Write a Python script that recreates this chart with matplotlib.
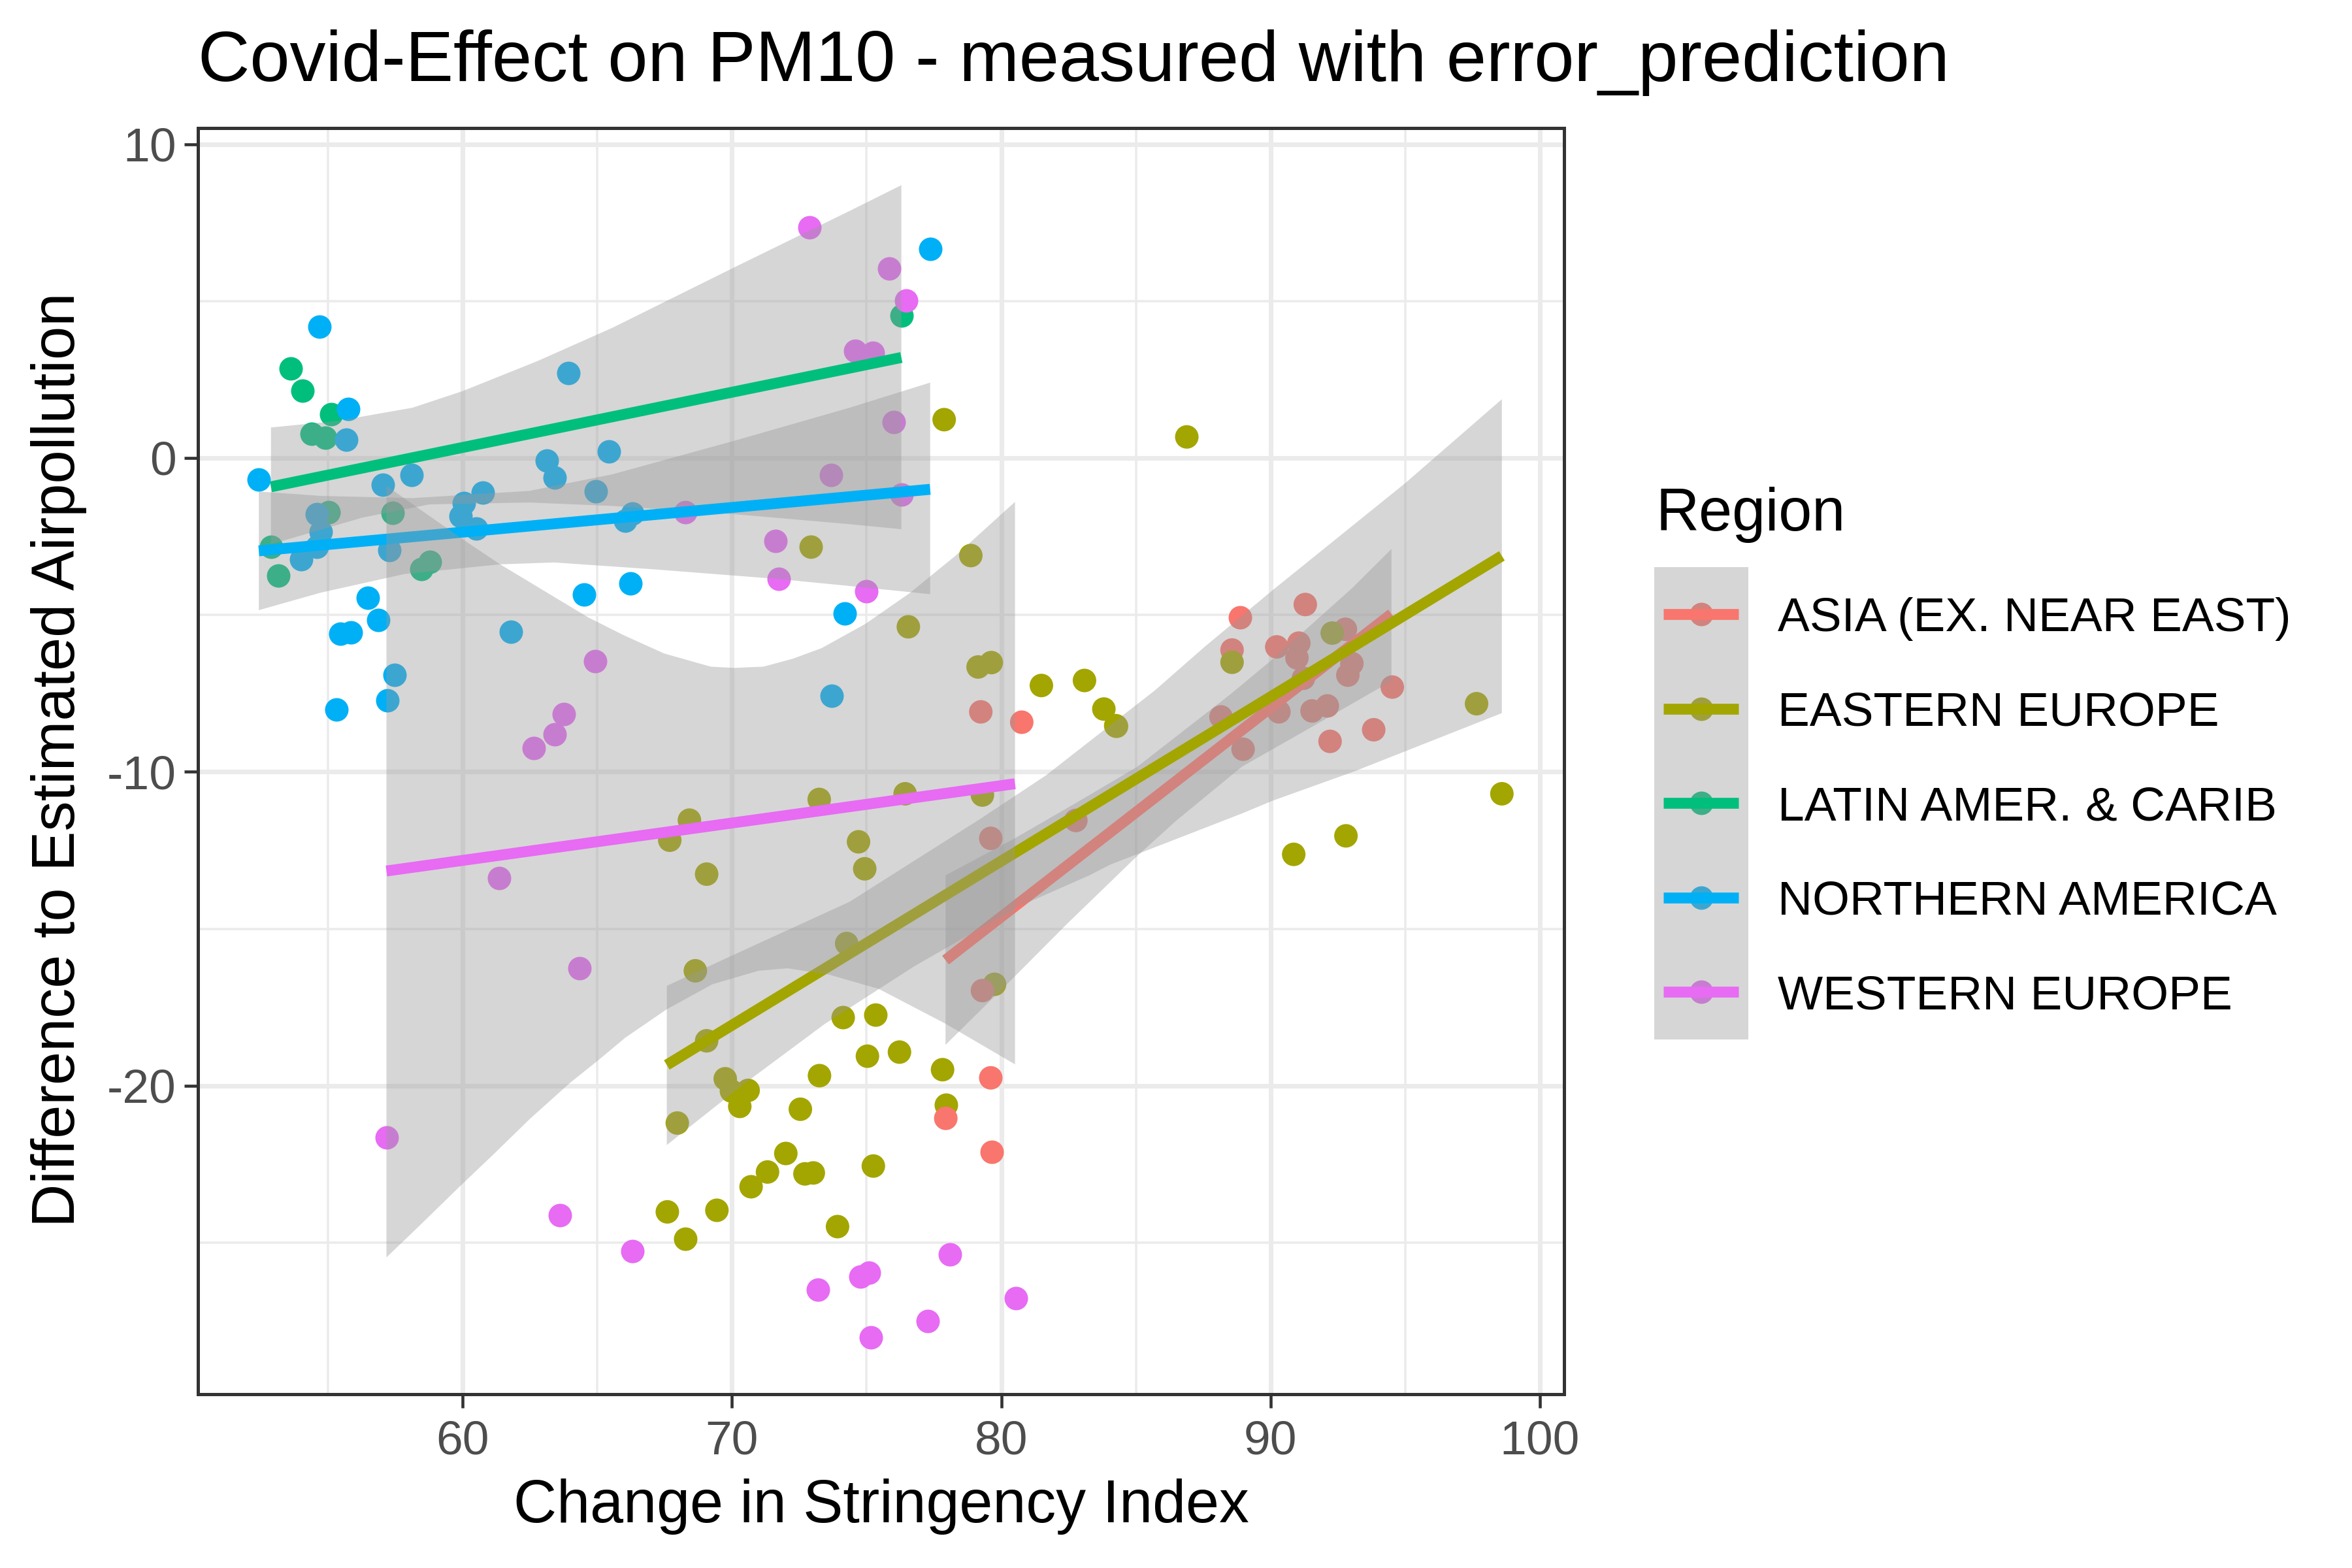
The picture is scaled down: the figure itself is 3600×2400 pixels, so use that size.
import numpy as np
import matplotlib
matplotlib.use("Agg")
import matplotlib.pyplot as plt
from matplotlib.patches import Rectangle

plt.rcParams['font.family'] = ['Liberation Sans', 'DejaVu Sans']
plt.rcParams['axes.unicode_minus'] = False

TITLE = "Covid-Effect on PM10 - measured with error_prediction"
XLABEL = "Change in Stringency Index"
YLABEL = "Difference to Estimated Airpollution"
LEGEND_TITLE = "Region"
REGIONS = ["ASIA (EX. NEAR EAST)", "EASTERN EUROPE", "LATIN AMER. & CARIB", "NORTHERN AMERICA", "WESTERN EUROPE"]
COLORS = ["#F8766D", "#A3A500", "#00BF7D", "#00B0F6", "#E76BF3"]
XTICKS = [60, 70, 80, 90, 100]
YTICKS = [-20, -10, 0, 10]
XMINOR = [55, 65, 75, 85, 95]
YMINOR = [-25, -15, -5, 5]

# points
asia_x = [88.88, 88.57, 91.29, 90.23, 91.05, 90.98, 92.78, 93.02, 92.87, 91.22, 94.52, 88.16, 90.31, 91.54, 92.11,
          93.83, 92.21, 88.98, 79.61, 77.94, 79.66, 79.30, 79.24, 80.76, 79.61, 82.77]
asia_y = [-5.09, -6.12, -4.67, -6.02, -5.90, -6.37, -5.46, -6.55, -6.92, -7.02, -7.30, -8.25, -8.09, -8.06, -7.90,
          -8.66, -9.03, -9.28, -19.75, -21.04, -22.12, -16.97, -8.09, -8.42, -12.12, -11.55]
east_x = [68.64, 74.26, 79.75, 69.06, 69.75, 69.98, 70.6, 70.29, 67.97, 73.25, 74.13, 75.34, 75.03, 76.22, 77.82,
          77.96, 72.54, 72.0, 71.32, 70.71, 72.71, 73.02, 75.25, 67.6, 69.44, 68.28, 73.92, 73.24, 68.42, 67.69,
          69.06, 74.7, 74.93, 76.43, 79.3, 72.94, 77.88, 86.89, 78.87, 76.55, 79.14, 79.63, 81.49, 83.09, 83.81,
          84.28, 88.57, 84.25, 92.29, 97.65, 98.59, 92.8, 90.86]
east_y = [-16.34, -15.47, -16.77, -18.57, -19.78, -20.17, -20.15, -20.66, -21.19, -19.68, -17.83, -17.75, -19.06,
          -18.93, -19.49, -20.62, -20.75, -22.16, -22.75, -23.22, -22.81, -22.78, -22.56, -24.02, -23.97, -24.89,
          -24.49, -10.88, -11.54, -12.18, -13.26, -12.23, -13.09, -10.7, -10.74, -2.84, 1.22, 0.67, -3.11, -5.38,
          -6.66, -6.52, -7.25, -7.09, -8.0, -8.55, -6.51, -8.53, -5.58, -7.83, -10.70, -12.04, -12.63]
latin_x = [53.61, 54.06, 55.12, 54.40, 54.89, 55.02, 57.4, 52.89, 53.16, 58.78, 58.47, 76.29]
latin_y = [2.86, 2.15, 1.39, 0.77, 0.65, -1.72, -1.74, -2.83, -3.74, -3.32, -3.55, 4.54]
north_x = [54.69, 52.43, 55.76, 55.67, 63.92, 65.43, 63.13, 63.42, 58.10, 57.03, 64.95, 60.74, 60.05, 59.92, 60.5,
           66.3, 66.04, 54.58, 54.74, 54.58, 54.0, 57.29, 56.49, 56.87, 64.5, 66.22, 74.2, 55.46, 55.85, 61.78,
           57.48, 57.21, 55.32, 73.7, 77.36]
north_y = [4.19, -0.68, 1.55, 0.59, 2.70, 0.20, -0.08, -0.62, -0.55, -0.85, -1.07, -1.11, -1.44, -1.85, -2.26,
           -1.77, -1.99, -1.80, -2.35, -2.83, -3.23, -2.94, -4.45, -5.17, -4.35, -3.99, -4.95, -5.6, -5.55, -5.53,
           -6.92, -7.73, -8.01, -7.58, 6.65]
west_x = [72.89, 71.61, 71.75, 68.28, 73.68, 74.58, 75.22, 75.83, 76.47, 76.0, 76.29, 74.99, 64.91, 63.76, 63.42,
          62.65, 61.35, 64.35, 57.17, 73.19, 74.77, 75.09, 78.1, 80.54, 77.28, 75.17, 63.62, 66.3]
west_y = [7.34, -2.65, -3.86, -1.72, -0.55, 3.41, 3.35, 6.03, 5.02, 1.14, -1.16, -4.24, -6.48, -8.16, -8.80,
          -9.25, -13.39, -16.26, -21.65, -26.49, -26.08, -25.96, -25.37, -26.77, -27.49, -28.02, -24.13, -25.27]

# fitted lines
asia_line_x = [77.93, 94.49];  asia_line_y = [-16.0, -4.97]
east_line_x = [67.58, 98.59];  east_line_y = [-19.34, -3.12]
latin_line_x = [52.88, 76.29]; latin_line_y = [-0.92, 3.2]
north_line_x = [52.43, 77.36]; north_line_y = [-2.96, -1.0]
west_line_x = [57.17, 80.51];  west_line_y = [-13.16, -10.38]

# confidence bands
asia_up_x = [77.93, 80.5, 82.86, 85.05, 88.51, 90.08, 93.04, 94.49]
asia_up_y = [-13.3, -12.12, -10.95, -9.84, -7.53, -6.41, -4.14, -2.9]
asia_lo_x = [77.93, 80.36, 82.46, 85.05, 86.48, 88.93, 91.47, 94.49]
asia_lo_y = [-18.7, -16.64, -14.83, -12.68, -11.57, -9.84, -8.6, -7.11]
east_up_x = [67.58, 69.91, 74.37, 79.22, 81.65, 83.83, 85.7, 87.55, 90.04, 95.02, 98.59]
east_up_y = [-16.82, -15.89, -14.14, -11.5, -10.12, -8.66, -7.41, -6.02, -4.24, -0.79, 1.87]
east_lo_x = [67.58, 70.36, 73.45, 75.46, 76.8, 80.68, 83.27, 84.04, 86.95, 88.93, 90.08, 93.1, 98.59]
east_lo_y = [-21.89, -20.0, -18.03, -16.92, -16.18, -14.28, -13.3, -12.96, -11.99, -11.33, -10.92, -9.99, -8.13]
latin_up_x = [52.88, 55.36, 58.14, 60.0, 62.79, 65.57, 70.06, 74.37, 76.29]
latin_up_y = [0.97, 1.18, 1.6, 2.13, 3.09, 4.15, 6.06, 7.87, 8.69]
latin_lo_x = [52.88, 56.28, 58.76, 62.48, 65.57, 70.06, 74.37, 76.29]
latin_lo_y = [-2.75, -1.9, -1.48, -1.42, -1.53, -1.79, -2.11, -2.27]
north_up_x = [52.43, 54.74, 58.14, 62.48, 65.57, 70.06, 74.37, 77.36]
north_up_y = [-1.07, -1.21, -1.28, -1.05, -0.52, 0.54, 1.6, 2.4]
north_lo_x = [52.43, 54.74, 57.83, 61.39, 63.4, 67.12, 71.76, 74.37, 77.36]
north_lo_y = [-4.85, -4.29, -3.7, -3.39, -3.33, -3.55, -3.86, -4.08, -4.34]
west_up_x = [57.17, 60.0, 61.39, 64.66, 65.96, 67.48, 69.21, 70.07, 71.17, 72.25, 73.33, 74.95, 76.58, 78.31, 80.51]
west_up_y = [-0.89, -2.59, -3.39, -5.08, -5.64, -6.23, -6.65, -6.69, -6.65, -6.4, -6.06, -5.29, -4.32, -3.11, -1.4]
west_lo_x = [57.17, 58.35, 59.88, 61.19, 62.48, 64.0, 65.02, 66.04, 67.57, 69.27, 70.98, 72.06, 73.6, 75.46, 77.94, 80.51]
west_lo_y = [-25.47, -24.5, -23.22, -22.15, -21.07, -19.9, -19.2, -18.47, -17.57, -16.77, -16.34, -16.26, -16.46,
             -16.92, -18.03, -19.32]

W, H = 3600, 2400
DPI = 300
PANEL = (303, 2394, 196, 2134)  # left, right, top, bottom in pixels
XLIM = (50.17, 100.9)
YLIM = (-29.83, 10.51)
BAND, BAND_ALPHA = "#999999", 0.4
GRID = "#EBEBEB"
DARK = "#333333"
MS = 74.6
LW = 4.0

fig = plt.figure(figsize=(W / DPI, H / DPI), dpi=DPI, facecolor="white")
l, r, t, b = PANEL
ax = fig.add_axes([l / W, 1 - b / H, (r - l) / W, (b - t) / H])
ax.set_xlim(*XLIM)
ax.set_ylim(*YLIM)
ax.set_xticks(XTICKS)
ax.set_yticks(YTICKS)
ax.set_xticks(XMINOR, minor=True)
ax.set_yticks(YMINOR, minor=True)
ax.tick_params(which="minor", length=0)
ax.tick_params(which="major", length=5, width=1.1, color=DARK, labelcolor="#4D4D4D", labelsize=17.6, pad=3)
ax.tick_params(axis="x", which="major", pad=4.5)
ax.grid(which="major", color=GRID, lw=1.7, zorder=0)
ax.grid(which="minor", color=GRID, lw=0.85, zorder=0)
ax.set_axisbelow(True)
for s in ax.spines.values():
    s.set_color(DARK)
    s.set_linewidth(1.2)
    s.set_zorder(10)

# points: green first, then the rest from high to low
ax.scatter(latin_x, latin_y, s=MS, c=COLORS[2], lw=0, zorder=2)
ax.scatter(north_x, north_y, s=MS, c=COLORS[3], lw=0, zorder=2)
ax.scatter(west_x, west_y, s=MS, c=COLORS[4], lw=0, zorder=2)
mx = np.array(asia_x + east_x)
my = np.array(asia_y + east_y)
mc = np.array([COLORS[0]] * len(asia_x) + [COLORS[1]] * len(east_x))
order = np.argsort(-my)
ax.scatter(mx[order], my[order], s=MS, c=list(mc[order]), lw=0, zorder=2)

groups = [
    (asia_up_x, asia_up_y, asia_lo_x, asia_lo_y, asia_line_x, asia_line_y, COLORS[0]),
    (east_up_x, east_up_y, east_lo_x, east_lo_y, east_line_x, east_line_y, COLORS[1]),
    (latin_up_x, latin_up_y, latin_lo_x, latin_lo_y, latin_line_x, latin_line_y, COLORS[2]),
    (north_up_x, north_up_y, north_lo_x, north_lo_y, north_line_x, north_line_y, COLORS[3]),
    (west_up_x, west_up_y, west_lo_x, west_lo_y, west_line_x, west_line_y, COLORS[4]),
]
for ux, uy, lx, ly, px, py, c in groups:
    ax.fill(list(ux) + list(lx[::-1]), list(uy) + list(ly[::-1]), color=BAND, alpha=BAND_ALPHA, lw=0, zorder=3)
    ax.plot(px, py, color=c, lw=LW, solid_capstyle="butt", zorder=3)

fig.text(l / W, 1 - 124 / H, TITLE, fontsize=26.4, color="black", ha="left", va="baseline")
fig.text((l + r) / 2 / W, 1 - 2330 / H, XLABEL, fontsize=22, color="black", ha="center", va="baseline")
fig.text(90 / W, 1 - 1163 / H, YLABEL, fontsize=22.1, color="black", rotation=90, ha="center", va="center")

# legend in pixel space
lg = fig.add_axes([0, 0, 1, 1], facecolor="none")
lg.set_xlim(0, W)
lg.set_ylim(H, 0)
lg.axis("off")
lg.text(2534, 812, LEGEND_TITLE, fontsize=22, color="black", ha="left", va="baseline")
KEY_L, KEY_R, KEY_T, KEY_H = 2532, 2676, 868, 144.5
for i, (name, c) in enumerate(zip(REGIONS, COLORS)):
    cy = KEY_T + KEY_H * (i + 0.5)
    lg.scatter([(KEY_L + KEY_R) / 2], [cy], s=MS, c=c, lw=0, zorder=2)
    lg.add_patch(Rectangle((KEY_L, KEY_T + KEY_H * i), KEY_R - KEY_L, KEY_H, fc=BAND, alpha=BAND_ALPHA, lw=0, zorder=3))
    lg.plot([KEY_L + 14, KEY_R - 15], [cy, cy], color=c, lw=LW, solid_capstyle="butt", zorder=4)
    lg.text(2721, cy, name, fontsize=17.6, color="black", ha="left", va="center_baseline")

fig.savefig("out.png", dpi=DPI, facecolor="white")
